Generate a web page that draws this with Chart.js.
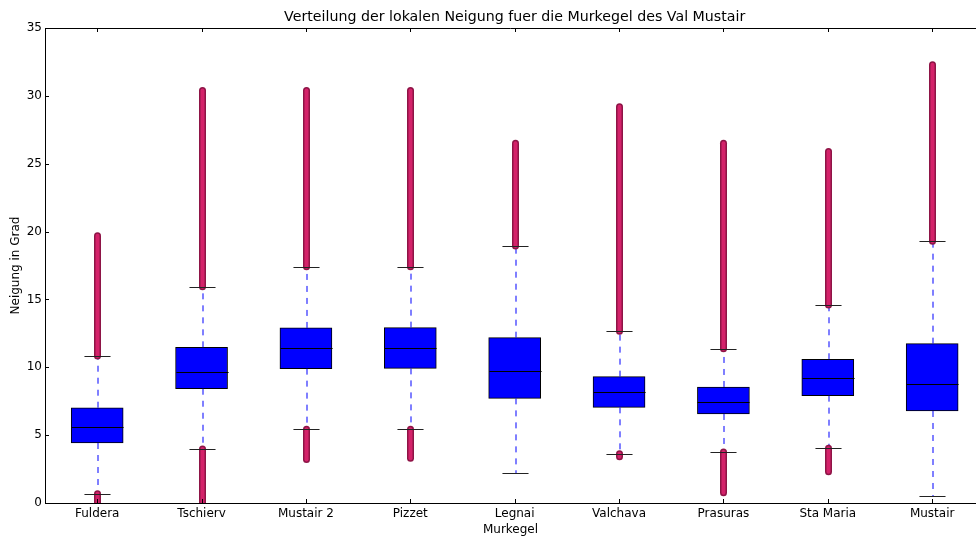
<!DOCTYPE html>
<html>
<head>
<meta charset="utf-8">
<title>Neigung Murkegel Val Mustair</title>
<script src="https://cdn.jsdelivr.net/npm/chart.js@4.4.1/dist/chart.umd.min.js"></script>
<style>
  html, body { margin: 0; padding: 0; background: #ffffff; }
  #wrap { width: 976px; height: 538px; }
</style>
</head>
<body>
<div id="wrap"><canvas id="chart" width="976" height="538"></canvas></div>
<script>
// Murkegel (debris cones) along the x axis
const categories = ['Fuldera', 'Tschierv', 'Mustair 2', 'Pizzet', 'Legnai', 'Valchava', 'Prasuras', 'Sta Maria', 'Mustair'];

// Box statistics of the local slope (degrees)
const q1          = [4.42, 8.42, 9.90, 9.92, 7.71, 7.05, 6.56, 7.91, 6.78];
const medians     = [5.62, 9.65, 11.40, 11.40, 9.70, 8.16, 7.44, 9.24, 8.79];
const q3          = [7.02, 11.47, 12.90, 12.92, 12.18, 9.31, 8.55, 10.59, 11.74];
const whiskerLow  = [0.69, 3.98, 5.43, 5.43, 2.19, 3.63, 3.76, 4.03, 0.49];
const whiskerHigh = [10.83, 15.94, 17.41, 17.41, 18.94, 12.65, 11.37, 14.59, 19.28];

// Extent of the outlier points beyond the whiskers (null = no outliers)
const outlierLowMin  = [0.0, 0.0, 3.2, 3.3, null, 3.4, 0.75, 2.3, null];
const outlierHighMax = [19.7, 30.4, 30.4, 30.4, 26.5, 29.2, 26.5, 25.9, 32.3];

const yTicks = [0, 5, 10, 15, 20, 25, 30, 35];

const TITLE = 'Verteilung der lokalen Neigung fuer die Murkegel des Val Mustair';

Chart.defaults.font.family = "'DejaVu Sans', sans-serif";
Chart.defaults.font.size = 12;
Chart.defaults.color = '#000000';

// Whiskers, outliers, caps, medians, inward ticks, top spine and title
const boxPartsPlugin = {
  id: 'boxParts',
  afterDatasetsDraw(chart) {
    const { ctx, chartArea: area, scales: { x, y } } = chart;
    const capHalf = (x.getPixelForValue(1.125) - x.getPixelForValue(1));
    const boxHalf = (x.getPixelForValue(1.25) - x.getPixelForValue(1));

    ctx.save();
    ctx.beginPath();
    ctx.rect(area.left, area.top, area.right - area.left, area.bottom - area.top);
    ctx.clip();

    categories.forEach((_, i) => {
      const px = x.getPixelForValue(i + 1);
      const cx = Math.round(px) + 0.5;

      // dashed whiskers (soft, spread over two pixel columns)
      const wx = Math.round(px) + 1;
      ctx.save();
      ctx.strokeStyle = '#0000ff';
      ctx.lineWidth = 1;
      ctx.setLineDash([6, 6]);
      ctx.beginPath();
      ctx.moveTo(wx, y.getPixelForValue(q3[i]));
      ctx.lineTo(wx, y.getPixelForValue(whiskerHigh[i]));
      ctx.stroke();
      ctx.beginPath();
      ctx.moveTo(wx, y.getPixelForValue(q1[i]));
      ctx.lineTo(wx, y.getPixelForValue(whiskerLow[i]));
      ctx.stroke();
      ctx.restore();

      // outlier columns
      const ranges = [];
      if (outlierHighMax[i] !== null) ranges.push([whiskerHigh[i], outlierHighMax[i]]);
      if (outlierLowMin[i] !== null) ranges.push([outlierLowMin[i], whiskerLow[i]]);
      ranges.forEach(([a, b]) => {
        const ya = y.getPixelForValue(a);
        const yb = y.getPixelForValue(b);
        ctx.save();
        ctx.lineCap = 'round';
        ctx.strokeStyle = '#8e1446';
        ctx.lineWidth = 7;
        ctx.beginPath(); ctx.moveTo(cx, ya); ctx.lineTo(cx, yb); ctx.stroke();
        ctx.strokeStyle = '#d4226a';
        ctx.lineWidth = 4;
        ctx.beginPath(); ctx.moveTo(cx, ya); ctx.lineTo(cx, yb); ctx.stroke();
        ctx.restore();
      });

      // caps
      ctx.strokeStyle = '#222222';
      ctx.lineWidth = 1;
      ctx.setLineDash([]);
      [whiskerLow[i], whiskerHigh[i]].forEach(v => {
        const py = Math.round(y.getPixelForValue(v)) + 0.5;
        ctx.beginPath();
        ctx.moveTo(cx - capHalf, py);
        ctx.lineTo(cx + capHalf, py);
        ctx.stroke();
      });

      // median
      const my = Math.round(y.getPixelForValue(medians[i])) + 0.5;
      ctx.strokeStyle = '#000000';
      ctx.beginPath();
      ctx.moveTo(cx - boxHalf, my);
      ctx.lineTo(cx + boxHalf, my);
      ctx.stroke();
    });
    ctx.restore();

    // top spine and inward ticks
    ctx.save();
    ctx.strokeStyle = '#000000';
    ctx.lineWidth = 1;
    const topY = Math.round(area.top) + 0.5;
    ctx.beginPath();
    ctx.moveTo(area.left, topY);
    ctx.lineTo(area.right, topY);
    ctx.stroke();
    categories.forEach((_, i) => {
      const tx = Math.round(x.getPixelForValue(i + 1)) + 0.5;
      ctx.beginPath();
      ctx.moveTo(tx, area.bottom); ctx.lineTo(tx, area.bottom - 4);
      ctx.moveTo(tx, area.top); ctx.lineTo(tx, area.top + 4);
      ctx.stroke();
    });
    yTicks.forEach(v => {
      const ty = Math.round(y.getPixelForValue(v)) + 0.5;
      ctx.beginPath();
      ctx.moveTo(area.left, ty); ctx.lineTo(area.left + 4, ty);
      ctx.stroke();
    });

    // title centred over the axes
    ctx.fillStyle = '#000000';
    ctx.font = "14.2px 'DejaVu Sans', sans-serif";
    ctx.textAlign = 'center';
    ctx.textBaseline = 'middle';
    ctx.fillText(TITLE, x.getPixelForValue(5), 17);
    ctx.restore();
  }
};

const boxData = categories.map((_, i) => ({ x: i + 1, y: [q1[i], q3[i]] }));

new Chart(document.getElementById('chart'), {
  type: 'bar',
  data: {
    datasets: [{
      label: 'Neigung',
      data: boxData,
      backgroundColor: '#0000ff',
      borderColor: '#000000',
      borderWidth: 1,
      borderSkipped: false,
      barThickness: 52,
      grouped: false
    }]
  },
  options: {
    responsive: false,
    animation: false,
    devicePixelRatio: 1,
    layout: { padding: { top: 28, right: 0, bottom: 0, left: 0 } },
    plugins: {
      legend: { display: false },
      title: { display: false },
      tooltip: { enabled: false }
    },
    scales: {
      x: {
        type: 'linear',
        min: 0.5,
        max: 9.42,
        offset: false,
        grid: { display: false, drawTicks: false },
        border: { display: true, color: '#000000', width: 1 },
        afterBuildTicks: (scale) => {
          scale.ticks = categories.map((_, i) => ({ value: i + 1 }));
        },
        afterFit: (scale) => { scale.height = 35; },
        ticks: {
          autoSkip: false,
          maxRotation: 0,
          padding: 4,
          callback: (v) => categories[Math.round(v) - 1] || ''
        },
        title: {
          display: true,
          text: 'Murkegel',
          font: { size: 12 },
          padding: { top: 0, bottom: 1 }
        }
      },
      y: {
        type: 'linear',
        min: 0,
        max: 35,
        grid: { display: false, drawTicks: false },
        border: { display: true, color: '#000000', width: 1 },
        afterBuildTicks: (scale) => {
          scale.ticks = yTicks.map(v => ({ value: v }));
        },
        afterFit: (scale) => { scale.width = 45; },
        ticks: { padding: 3 },
        title: {
          display: true,
          text: 'Neigung in Grad',
          font: { size: 12 },
          padding: { top: 9, bottom: 0 }
        }
      }
    }
  },
  plugins: [boxPartsPlugin]
});
</script>
</body>
</html>
